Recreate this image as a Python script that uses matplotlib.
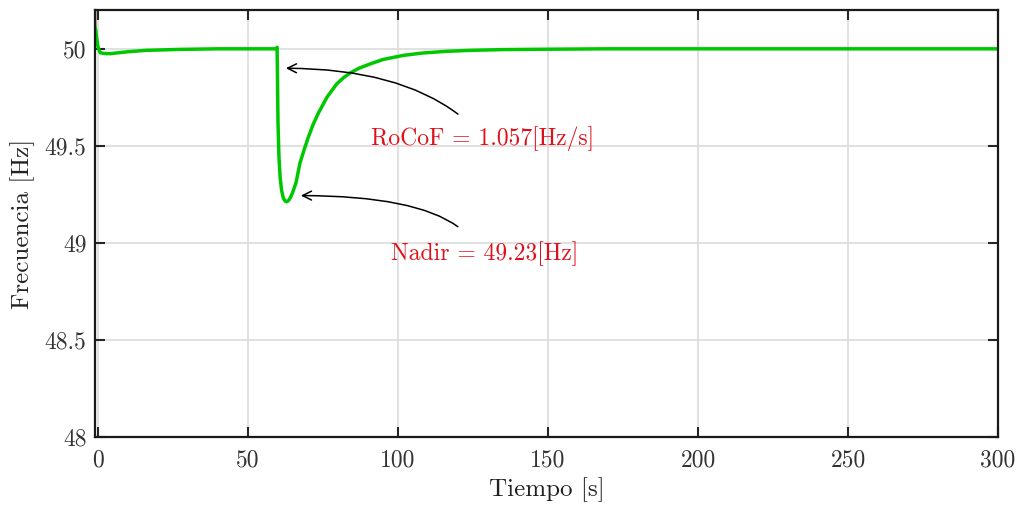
import numpy as np
import matplotlib
matplotlib.use("Agg")
import matplotlib.pyplot as plt

plt.rcParams['font.family'] = 'serif'
plt.rcParams['font.serif'] = ['cmr10']
plt.rcParams['mathtext.fontset'] = 'cm'
plt.rcParams['axes.formatter.use_mathtext'] = True

# frequency response
t = [-1.0, -0.8, -0.5, 0.0, 0.7, 2.0, 4.0, 7.0, 10.0, 16.0, 27.0, 40.0, 59.4,
     59.7, 60.0, 60.3, 60.7, 61.2, 61.8, 62.4, 62.9, 63.5, 64.2, 65.0, 66.0,
     67.3, 68.5, 70.0, 71.7, 73.5, 76.3, 79.6, 82.0, 84.0, 87.0, 90.7, 95.0,
     101.7, 108.0, 116.0, 124.0, 135.0, 150.0, 170.0, 220.0, 300.0]
f = [50.11, 50.10, 50.06, 50.01, 49.98, 49.976, 49.975, 49.98, 49.985,
     49.992, 49.997, 50.0, 50.0, 50.008, 49.62, 49.45, 49.34, 49.27, 49.23,
     49.215, 49.212, 49.218, 49.235, 49.265, 49.31, 49.41, 49.47, 49.54,
     49.61, 49.67, 49.75, 49.82, 49.853, 49.875, 49.9, 49.922, 49.945,
     49.966, 49.978, 49.987, 49.992, 49.996, 49.998, 50.0, 50.0, 50.0]

# second trace, mostly hidden behind the first
t2 = [-1.0, -0.9]
f2 = [50.3, 50.12]

xticks = [0, 50, 100, 150, 200, 250, 300]
yticks = [48, 48.5, 49, 49.5, 50]
ylabels = ['48', '48.5', '49', '49.5', '50']

fig = plt.figure(figsize=(10.21, 5.08), dpi=100)
ax = fig.add_axes([95/1021, 1 - 437/508, (998 - 95)/1021, (437 - 10)/508])

ax.plot(t2, f2, color='#8b6b2a', lw=1.8)
ax.plot(t, f, color='#00c800', lw=2.5)

ax.set_xlim(-1, 300)
ax.set_ylim(48, 50.2)
ax.set_xticks(xticks)
ax.set_xticklabels([str(v) for v in xticks])
ax.set_yticks(yticks)
ax.set_yticklabels(ylabels)
ax.grid(True, color='#dcdcdc', lw=1.2)
ax.set_axisbelow(True)
ax.tick_params(direction='in', top=True, right=True, labelsize=17,
               length=7, width=1.5, colors='#262626', labelcolor='#333333')
ax.tick_params(axis='x', pad=9)
ax.tick_params(axis='y', pad=6)
for s in ax.spines.values():
    s.set_linewidth(1.6)
    s.set_color('#1a1a1a')

ax.set_xlabel('Tiempo [s]', fontsize=18, labelpad=4, color='#222222')
ax.set_ylabel('Frecuencia [Hz]', fontsize=18, labelpad=7, color='#222222')

red = '#e0101a'
arrow = dict(arrowstyle='->', color='black', lw=1.1, mutation_scale=16,
             connectionstyle='angle3,angleA=142,angleB=0')
ax.annotate('', xy=(61.7, 49.90), xytext=(120.7, 49.655), arrowprops=arrow)
ax.text(128.3, 49.537, 'RoCoF = 1.057[Hz/s]', color=red, fontsize=17,
        ha='center', va='center')
ax.annotate('', xy=(66.7, 49.244), xytext=(120.7, 49.075), arrowprops=arrow)
ax.text(129.0, 48.946, 'Nadir = 49.23[Hz]', color=red, fontsize=17,
        ha='center', va='center')

fig.savefig('out.png', dpi=100)
